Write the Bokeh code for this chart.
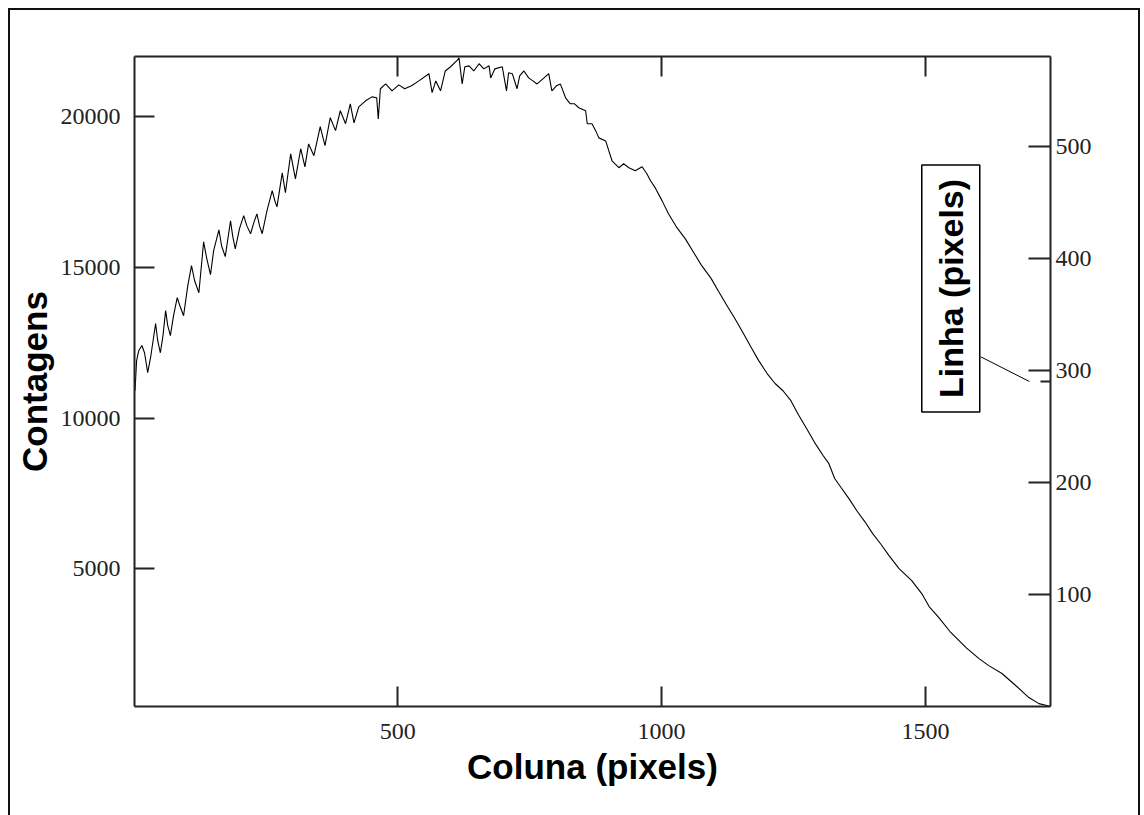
import math
from bokeh.plotting import figure
from bokeh.models import Range1d, LinearAxis, FixedTicker, Label
from bokeh.embed import file_html
from bokeh.resources import INLINE

coluna = [2, 5, 9, 15, 20, 26, 32, 41, 45, 50,
          55, 60, 64, 69, 75, 82, 87, 94, 102, 109,
          115, 123, 132, 138, 145, 151, 161, 166, 173, 183,
          187, 192, 200, 208, 214, 221, 227, 233, 238, 243,
          252, 262, 267, 271, 281, 287, 297, 306, 316, 324,
          331, 341, 353, 362, 372, 382, 391, 401, 410, 417,
          426, 439, 451, 460, 463, 467, 477, 489, 502, 513,
          526, 540, 559, 565, 572, 581, 590, 600, 612, 616,
          622, 627, 635, 644, 654, 663, 673, 676, 684, 698,
          706, 710, 717, 726, 731, 739, 748, 756, 764, 775,
          786, 792, 801, 808, 818, 827, 835, 843, 856, 859,
          868, 875, 881, 894, 900, 906, 919, 928, 938, 950,
          963, 972, 979, 988, 1001, 1013, 1029, 1045, 1061, 1076,
          1094, 1108, 1124, 1139, 1154, 1169, 1184, 1200, 1215, 1230,
          1245, 1259, 1275, 1290, 1306, 1317, 1328, 1340, 1355, 1370,
          1385, 1400, 1416, 1431, 1450, 1474, 1493, 1507, 1525, 1548,
          1577, 1601, 1620, 1645, 1671, 1696, 1715, 1730, 1737]

contagens = [10910, 11910, 12240, 12410, 12170, 11510, 12070, 13140, 12570, 12170,
             12740, 13570, 13070, 12740, 13400, 14000, 13730, 13400, 14400, 15060,
             14560, 14160, 15850, 15290, 14760, 15560, 16250, 15720, 15360, 16550,
             16050, 15620, 16290, 16720, 16380, 16120, 16480, 16780, 16380, 16120,
             16880, 17550, 17210, 17010, 18140, 17480, 18770, 17940, 18940, 18340,
             19100, 18710, 19670, 19040, 19970, 19540, 20200, 19770, 20430, 19800,
             20330, 20530, 20660, 20630, 19930, 20930, 21090, 20860, 21060, 20930,
             21030, 21190, 21430, 20800, 21190, 20860, 21520, 21660, 21860, 21960,
             21090, 21660, 21690, 21520, 21760, 21590, 21690, 21290, 21590, 21660,
             20860, 21460, 21430, 20930, 21360, 21520, 21290, 21190, 21090, 21260,
             21430, 20860, 21030, 21090, 20630, 20430, 20430, 20300, 20200, 19770,
             19770, 19540, 19300, 19200, 18870, 18540, 18310, 18440, 18310, 18210,
             18340, 18110, 17880, 17640, 17210, 16780, 16320, 15950, 15490, 15060,
             14630, 14200, 13730, 13300, 12840, 12370, 11910, 11480, 11150, 10910,
             10580, 10120, 9650, 9190, 8760, 8490, 8000, 7700, 7330, 6930,
             6570, 6170, 5810, 5440, 5010, 4610, 4180, 3750, 3390, 2890,
             2390, 2030, 1790, 1530, 1130, 730, 530, 470, 434]

x_ticks = [500, 1000, 1500]
y_ticks = [5000, 10000, 15000, 20000]
linha_ticks = [100, 200, 300, 400, 500]
linha_sel = 290

p = figure(frame_width=916, frame_height=650,
           min_border_left=124, min_border_right=88,
           min_border_top=46, min_border_bottom=109,
           x_range=Range1d(1, 1737), y_range=Range1d(434, 22000),
           output_backend="svg", toolbar_location=None,
           x_axis_label="Coluna (pixels)", y_axis_label="Contagens")
p.styles = {"margin-left": "8px", "margin-top": "8px",
            "border-left": "2px solid #111111", "border-top": "2px solid #111111",
            "border-right": "2px solid #111111"}
p.extra_y_ranges = {"linha": Range1d(0, 580)}
p.xgrid.visible = False
p.ygrid.visible = False
p.outline_line_color = None
p.background_fill_color = "white"
p.border_fill_color = "white"

bottom = p.below[0]
left = p.left[0]
bottom.ticker = FixedTicker(ticks=x_ticks)
left.ticker = FixedTicker(ticks=y_ticks)

right = LinearAxis(y_range_name="linha", ticker=FixedTicker(ticks=linha_ticks))
p.add_layout(right, "right")
top = LinearAxis(ticker=FixedTicker(ticks=x_ticks))
p.add_layout(top, "above")

for ax in [bottom, left, right, top]:
    ax.axis_line_width = 2
    ax.axis_line_color = "#222222"
    ax.major_tick_line_width = 2
    ax.major_tick_line_color = "#222222"
    ax.major_tick_in = 20
    ax.major_tick_out = 0
    ax.minor_tick_in = 0
    ax.minor_tick_out = 0
    ax.minor_tick_line_color = None
    ax.major_label_text_font = "Liberation Serif"
    ax.major_label_text_font_size = "24px"
    ax.major_label_text_color = "#222222"
    ax.axis_label_text_font = "Liberation Sans"
    ax.axis_label_text_font_style = "bold"
    ax.axis_label_text_font_size = "35px"
    ax.axis_label_text_color = "black"

top.major_label_overrides = {t: "" for t in x_ticks}
right.major_tick_in = 22
left.major_label_standoff = 14
left.axis_label_standoff = 4
bottom.major_label_standoff = 17
bottom.axis_label_standoff = 5
right.major_label_standoff = 5

p.line(coluna, contagens, line_color="black", line_width=1.1)

# marker of the selected row on the right axis and leader line to its label
p.segment(x0=[1718], y0=[linha_sel], x1=[1737], y1=[linha_sel], y_range_name="linha",
          line_color="#222222", line_width=2)
p.segment(x0=[1605], y0=[312], x1=[1697], y1=[linha_sel], y_range_name="linha",
          line_color="black", line_width=1)

lab = Label(x=1548, y=373, y_range_name="linha", text="Linha (pixels)",
            angle=math.pi / 2, text_align="center", text_baseline="middle",
            text_font="Liberation Sans", text_font_style="bold", text_font_size="34px",
            text_color="black", border_line_color="black", border_line_width=1.5,
            background_fill_color="white", padding=(14, 10))
p.add_layout(lab)

open("out.html", "w").write(file_html(p, INLINE))
